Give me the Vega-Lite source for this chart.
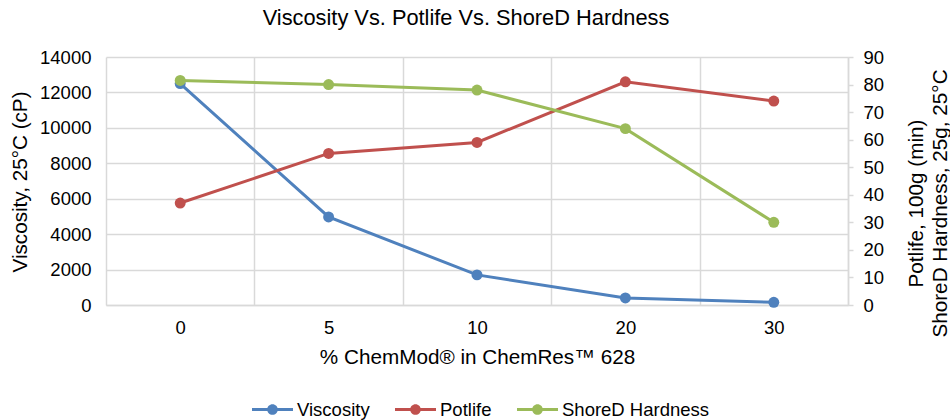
{
  "$schema": "https://vega.github.io/schema/vega-lite/v6.json",
  "width": 742,
  "height": 248,
  "autosize": {"type": "none"},
  "padding": {"left": 106, "top": 57, "right": 102, "bottom": 115},
  "background": "white",
  "title": {
    "text": "Viscosity Vs. Potlife Vs. ShoreD Hardness",
    "frame": "group",
    "anchor": "middle",
    "baseline": "alphabetic",
    "offset": 1,
    "dx": -11,
    "fontSize": 21.8,
    "font": "Liberation Sans",
    "fontWeight": "normal",
    "color": "#000000"
  },
  "data": {
    "values": [
      {"pct": "0", "series": "Viscosity", "value": 12500},
      {"pct": "5", "series": "Viscosity", "value": 4970},
      {"pct": "10", "series": "Viscosity", "value": 1700},
      {"pct": "20", "series": "Viscosity", "value": 400},
      {"pct": "30", "series": "Viscosity", "value": 150},
      {"pct": "0", "series": "Potlife", "value": 37},
      {"pct": "5", "series": "Potlife", "value": 55},
      {"pct": "10", "series": "Potlife", "value": 59},
      {"pct": "20", "series": "Potlife", "value": 81},
      {"pct": "30", "series": "Potlife", "value": 74},
      {"pct": "0", "series": "ShoreD Hardness", "value": 81.5},
      {"pct": "5", "series": "ShoreD Hardness", "value": 80},
      {"pct": "10", "series": "ShoreD Hardness", "value": 78},
      {"pct": "20", "series": "ShoreD Hardness", "value": 64},
      {"pct": "30", "series": "ShoreD Hardness", "value": 30}
    ]
  },
  "encoding": {
    "x": {
      "field": "pct",
      "type": "nominal",
      "sort": ["0", "5", "10", "20", "30"],
      "bandPosition": 0.5,
      "scale": {"type": "band", "paddingInner": 0, "paddingOuter": 0},
      "axis": {
        "title": "% ChemMod® in ChemRes™ 628",
        "labelAngle": 0,
        "tickBand": "extent",
        "grid": true,
        "ticks": false,
        "domain": true,
        "labelPadding": 13,
        "titleBaseline": "alphabetic",
        "titleY": 58
      }
    },
    "color": {
      "field": "series",
      "type": "nominal",
      "scale": {
        "domain": ["Viscosity", "Potlife", "ShoreD Hardness"],
        "range": ["#4F81BD", "#C0504D", "#9BBB59"]
      },
      "legend": {
        "orient": "none",
        "legendX": 146,
        "legendY": 332,
        "direction": "horizontal",
        "title": null,
        "symbolType": "M-1,-0.073L1,-0.073L1,0.073L-1,0.073Z M0.26,0 A0.26,0.26 0 1,1 -0.26,0 A0.26,0.26 0 1,1 0.26,0 Z",
        "symbolSize": 1681,
        "symbolStrokeWidth": 0,
        "symbolOpacity": 1,
        "labelFont": "Liberation Sans",
        "labelFontSize": 18.5,
        "labelColor": "#000000",
        "labelOffset": 4,
        "columnPadding": 25,
        "encode": {
          "symbols": {
            "update": {
              "fill": {"scale": "color", "field": "value"},
              "opacity": {"value": 1}
            }
          }
        }
      }
    }
  },
  "layer": [
    {
      "transform": [{"filter": "datum.series === 'Viscosity'"}],
      "mark": {"type": "line", "strokeWidth": 3, "point": {"size": 120, "filled": true, "opacity": 1}},
      "encoding": {
        "y": {
          "field": "value",
          "type": "quantitative",
          "scale": {"domain": [0, 14000], "nice": false},
          "axis": {
            "orient": "left",
            "values": [0, 2000, 4000, 6000, 8000, 10000, 12000, 14000],
            "format": "d",
            "title": "Viscosity, 25°C (cP)",
            "grid": true,
            "domain": false,
            "ticks": false,
            "labelPadding": 15,
            "titleAngle": 270,
            "titleX": -80,
            "titleY": 124.5,
            "titleBaseline": "alphabetic",
            "titleAlign": "center"
          }
        }
      }
    },
    {
      "transform": [{"filter": "datum.series !== 'Viscosity'"}],
      "mark": {"type": "line", "strokeWidth": 3, "point": {"size": 120, "filled": true, "opacity": 1}},
      "encoding": {
        "y": {
          "field": "value",
          "type": "quantitative",
          "scale": {"domain": [0, 90], "nice": false},
          "axis": {
            "orient": "right",
            "values": [0, 10, 20, 30, 40, 50, 60, 70, 80, 90],
            "format": "d",
            "title": ["Potlife, 100g (min)", "ShoreD Hardness, 25g, 25°C"],
            "grid": false,
            "domain": true,
            "ticks": true,
            "tickSize": 5,
            "labelPadding": 10,
            "titleAngle": 270,
            "titleX": 74,
            "titleY": 146,
            "titleBaseline": "alphabetic",
            "titleAlign": "center",
            "titleLineHeight": 24
          }
        }
      }
    }
  ],
  "resolve": {"scale": {"y": "independent"}},
  "config": {
    "view": {"stroke": null},
    "axis": {
      "labelFont": "Liberation Sans",
      "titleFont": "Liberation Sans",
      "labelFontSize": 18.5,
      "titleFontSize": 20.7,
      "titleFontWeight": "normal",
      "labelColor": "#000000",
      "titleColor": "#000000",
      "gridColor": "#d9d9d9",
      "gridWidth": 1.5,
      "domainColor": "#d9d9d9",
      "domainWidth": 1.5,
      "tickColor": "#d9d9d9",
      "tickWidth": 1.5
    }
  }
}
